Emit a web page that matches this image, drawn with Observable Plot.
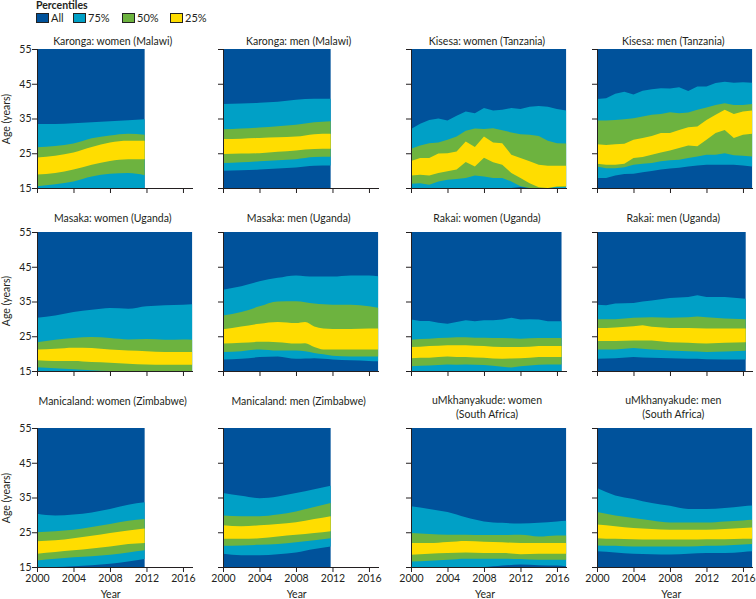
<!DOCTYPE html>
<html>
<head>
<meta charset="utf-8">
<script src="https://cdn.jsdelivr.net/npm/d3@7"></script>
<script src="https://cdn.jsdelivr.net/npm/@observablehq/plot@0.6"></script>
<style>
  body { margin: 0; background: #fff; }
  #chart { position: relative; width: 756px; height: 599px; font-family: Lato, "Open Sans", sans-serif; color: #231f20; }
  .t { position: absolute; font-size: 10.5px; white-space: pre; text-align: center; line-height: 14px; }
  .sw { position: absolute; width: 11px; height: 8px; border: 1px solid #222; }
</style>
</head>
<body>
<div id="chart"></div>
<script>
// ---------- data ----------
// columns of each row: year, p12.5 (75% low), p25 (50% low), p37.5 (25% low), p62.5 (25% high), p75 (50% high), p87.5 (75% high)
const percentileKeys = ["All", "75%", "50%", "25%"];
const ageMin = 15, ageMax = 55;
const yTicks = [15, 25, 35, 45, 55];
const xTicks = [2000, 2004, 2008, 2012, 2016];

const karongaWomen = [
  [2000, 15, 15.5, 18.9, 23.8, 26.7, 33.4],
  [2002, 15, 16.1, 19.3, 24.3, 27.1, 33.4],
  [2004, 15, 16.9, 20.3, 25.2, 27.8, 33.6],
  [2006, 15, 18.3, 21.7, 26.8, 29.3, 33.9],
  [2008, 15, 19.1, 22.8, 28.1, 30.1, 34.2],
  [2010, 15, 19.3, 23.3, 28.6, 30.6, 34.5],
  [2011.8, 15, 18.7, 23.3, 28.6, 30.3, 34.8]
];
const karongaMen = [
  [2000, 20.0, 22.2, 24.8, 29.1, 31.9, 39.2],
  [2002, 20.1, 22.4, 24.9, 29.2, 32.1, 39.3],
  [2004, 20.3, 22.7, 25.0, 29.4, 32.4, 39.5],
  [2006, 20.6, 23.0, 25.4, 29.6, 32.8, 39.8],
  [2008, 20.9, 23.3, 25.8, 29.8, 33.2, 40.4],
  [2010, 21.4, 23.9, 26.2, 30.5, 33.9, 40.7],
  [2011.8, 21.5, 24.0, 26.3, 30.6, 34.2, 40.7]
];
const kisesaWomen = [
  [2000, 15, 16.2, 18.6, 22.8, 26.3, 32.0],
  [2001, 15, 16.4, 18.8, 23.6, 27.2, 33.5],
  [2002, 15, 15.9, 18.6, 23.6, 27.9, 34.6],
  [2003, 15, 16.9, 19.3, 24.9, 28.1, 35.0],
  [2004, 15, 17.4, 19.8, 25.0, 28.9, 34.4],
  [2005, 15, 17.6, 20.3, 25.5, 29.8, 35.8],
  [2006, 15, 17.9, 22.5, 28.4, 31.5, 37.0],
  [2007, 15, 18.6, 21.2, 26.8, 32.1, 36.5],
  [2008, 15, 18.3, 23.7, 29.8, 32.0, 38.0],
  [2009, 15, 17.9, 22.4, 28.1, 32.2, 37.3],
  [2010, 15, 17.9, 21.7, 27.9, 31.6, 37.5],
  [2011, 15, 16.9, 19.3, 24.6, 31.0, 38.0],
  [2012, 15.3, 15.5, 17.9, 23.6, 30.5, 37.7],
  [2013, 15, 15, 16.4, 22.7, 30.3, 38.4],
  [2014, 15, 15, 15.2, 21.7, 30.0, 38.6],
  [2015, 15, 15, 15, 21.4, 28.6, 38.4],
  [2016, 15, 15.3, 15.4, 21.4, 27.9, 37.7],
  [2017, 15, 15.3, 15.5, 21.4, 27.8, 37.3]
];
const kisesaMen = [
  [2000, 17.9, 21.2, 22.0, 27.6, 34.4, 40.6],
  [2001, 17.9, 20.7, 21.7, 27.4, 34.4, 40.8],
  [2002, 18.6, 20.7, 21.7, 27.6, 34.6, 42.1],
  [2003, 19.0, 21.0, 22.0, 27.7, 34.8, 42.7],
  [2004, 19.1, 21.7, 23.6, 28.9, 35.1, 41.9],
  [2005, 19.5, 22.0, 23.9, 29.4, 35.6, 43.0],
  [2006, 19.9, 22.2, 24.6, 30.0, 36.1, 43.4],
  [2007, 20.3, 22.7, 25.2, 30.8, 36.3, 43.7],
  [2008, 20.6, 23.0, 25.8, 30.8, 36.8, 43.6],
  [2009, 20.8, 23.1, 26.5, 31.7, 36.5, 44.0],
  [2010, 21.2, 23.6, 27.2, 32.5, 36.7, 42.9],
  [2011, 21.5, 24.1, 27.0, 32.7, 37.5, 44.2],
  [2012, 21.7, 24.6, 28.9, 34.6, 38.2, 44.2],
  [2013, 21.7, 24.6, 30.8, 36.1, 38.9, 45.2],
  [2014, 21.7, 25.0, 31.7, 37.5, 39.4, 45.6],
  [2015, 21.7, 24.4, 29.4, 36.3, 38.9, 45.3],
  [2016, 21.5, 24.3, 30.3, 37.0, 38.9, 45.4],
  [2017, 21.2, 24.1, 30.6, 37.3, 39.2, 45.3]
];
const masakaWomen = [
  [2000, 15, 16.1, 18.1, 21.2, 23.3, 30.3],
  [2002, 15, 15.8, 17.9, 21.4, 24.0, 31.0],
  [2004, 15, 15.5, 17.9, 21.7, 24.5, 32.0],
  [2006, 15, 15.2, 17.6, 21.6, 24.8, 32.6],
  [2008, 15, 15, 17.4, 21.2, 24.5, 33.1],
  [2010, 15, 15, 17.1, 20.9, 24.1, 32.9],
  [2012, 15, 15, 16.9, 20.7, 24.2, 33.6],
  [2014, 15, 15, 16.8, 20.5, 24.0, 33.9],
  [2016, 15, 15, 16.8, 20.5, 24.1, 34.1],
  [2017, 15, 15, 16.8, 20.5, 24.0, 34.2]
];
const masakaMen = [
  [2000, 18.3, 20.5, 22.9, 27.0, 31.0, 38.4],
  [2002, 18.5, 20.7, 23.1, 27.8, 32.0, 39.4],
  [2004, 19.0, 21.2, 23.4, 28.6, 33.6, 40.8],
  [2006, 19.2, 20.9, 23.3, 29.1, 35.0, 41.8],
  [2008, 18.5, 20.9, 22.9, 28.8, 35.1, 42.5],
  [2009, 18.6, 20.7, 23.0, 29.1, 34.8, 42.3],
  [2010, 18.7, 20.2, 21.9, 27.8, 34.4, 42.2],
  [2011, 18.5, 19.8, 21.2, 27.2, 34.2, 42.2],
  [2012, 18.3, 19.4, 21.2, 27.1, 34.1, 42.2],
  [2014, 18.1, 19.2, 21.2, 27.1, 34.1, 42.5],
  [2016, 17.9, 19.2, 21.2, 27.2, 33.6, 42.5],
  [2017, 17.8, 19.2, 21.2, 27.2, 33.2, 42.3]
];
const rakaiWomen = [
  [2000, 15, 16.4, 18.7, 21.9, 24.0, 29.8],
  [2001, 15, 16.5, 18.8, 22.0, 24.2, 29.4],
  [2002, 15, 16.6, 18.8, 22.2, 24.3, 29.4],
  [2003, 15, 16.7, 19.0, 22.3, 24.5, 28.9],
  [2004, 15, 16.9, 19.2, 22.4, 24.6, 28.6],
  [2005, 15, 16.8, 19.0, 22.4, 24.7, 29.1],
  [2006, 15, 16.9, 19.0, 22.4, 24.7, 29.6],
  [2007, 15, 16.8, 18.9, 22.3, 24.6, 29.3],
  [2008, 15, 16.7, 18.8, 22.2, 24.6, 29.6],
  [2009, 15, 16.5, 18.6, 22.0, 24.5, 29.6],
  [2010, 15, 16.2, 18.5, 21.9, 24.5, 29.8],
  [2011, 15, 16.0, 18.6, 21.9, 24.4, 30.3],
  [2012, 15, 16.4, 18.7, 21.9, 24.3, 29.8],
  [2013, 15, 16.6, 18.8, 22.0, 24.4, 29.9],
  [2014, 15, 16.8, 19.0, 22.2, 24.5, 29.8],
  [2015, 15, 16.9, 19.0, 22.2, 24.5, 29.3],
  [2016, 15, 16.9, 19.0, 22.2, 24.5, 29.3],
  [2016.5, 15, 16.9, 19.0, 22.2, 24.5, 29.3]
];
const rakaiMen = [
  [2000, 18.5, 21.2, 23.6, 27.4, 29.9, 34.1],
  [2001, 18.6, 21.2, 23.6, 27.4, 29.9, 33.9],
  [2002, 18.7, 21.2, 23.6, 27.5, 29.9, 34.4],
  [2004, 19.0, 21.6, 23.8, 27.9, 30.3, 34.6],
  [2005, 18.9, 21.4, 23.8, 28.2, 30.4, 35.0],
  [2006, 18.8, 21.2, 23.8, 27.7, 30.5, 35.3],
  [2008, 18.7, 20.9, 23.3, 27.4, 30.3, 36.0],
  [2010, 18.5, 20.7, 23.1, 27.4, 30.5, 36.3],
  [2011, 18.5, 20.6, 23.0, 27.3, 30.7, 36.8],
  [2012, 18.4, 20.5, 22.9, 27.2, 30.5, 36.3],
  [2014, 18.3, 20.6, 23.1, 27.2, 30.1, 36.3],
  [2016.3, 18.3, 20.8, 23.3, 27.2, 29.9, 35.8]
];
const manicalandWomen = [
  [2000, 15, 16.9, 18.8, 22.4, 25.0, 30.3],
  [2002, 15, 17.4, 19.3, 22.7, 25.3, 29.8],
  [2004, 15.2, 17.8, 19.8, 23.3, 25.7, 30.1],
  [2006, 15.5, 18.1, 20.3, 24.0, 26.5, 30.7],
  [2008, 15.9, 18.5, 20.9, 24.8, 27.4, 31.7],
  [2010, 16.6, 19.2, 21.6, 25.5, 28.3, 32.9],
  [2011.8, 17.3, 19.8, 21.9, 26.1, 28.8, 33.6]
];
const manicalandMen = [
  [2000, 18.8, 21.1, 23.1, 27.0, 29.8, 36.3],
  [2002, 18.4, 21.2, 23.1, 26.7, 29.6, 35.5],
  [2004, 18.4, 21.4, 23.3, 27.0, 29.6, 34.8],
  [2006, 18.7, 21.6, 23.8, 27.4, 30.1, 35.3],
  [2008, 19.2, 22.1, 24.3, 27.9, 31.0, 36.3],
  [2010, 20.2, 22.7, 24.8, 28.8, 32.3, 37.4],
  [2011.8, 20.9, 23.3, 25.3, 29.6, 33.4, 38.4]
];
const umkhanyakudeWomen = [
  [2000, 15, 16.6, 18.5, 21.9, 24.8, 32.5],
  [2002, 15, 16.8, 18.8, 21.9, 24.5, 31.7],
  [2004, 15, 17.1, 19.0, 22.2, 24.3, 30.8],
  [2006, 15, 17.4, 19.2, 22.5, 24.3, 29.3],
  [2008, 15, 17.4, 19.0, 22.3, 24.2, 28.1],
  [2010, 15.4, 17.4, 19.0, 22.1, 24.2, 27.7],
  [2012, 15.7, 17.3, 18.7, 21.9, 24.3, 27.5],
  [2014, 15.5, 17.1, 18.8, 21.9, 23.8, 27.7],
  [2016, 15.4, 17.1, 18.8, 21.9, 24.1, 28.1],
  [2017, 15.2, 17.1, 18.8, 21.9, 24.1, 28.3]
];
const umkhanyakudeMen = [
  [2000, 19.5, 21.2, 23.3, 27.2, 30.8, 37.7],
  [2002, 19.2, 21.1, 23.1, 26.7, 29.8, 35.6],
  [2004, 18.8, 20.9, 23.0, 26.2, 29.1, 34.6],
  [2006, 18.7, 20.9, 22.9, 25.9, 28.4, 33.4],
  [2008, 18.6, 20.9, 22.9, 25.7, 27.8, 32.6],
  [2010, 18.8, 20.9, 22.9, 25.7, 27.8, 31.7],
  [2012, 19.0, 21.1, 23.0, 25.7, 27.8, 31.7],
  [2014, 19.0, 21.2, 23.0, 25.9, 28.1, 32.0],
  [2016, 19.3, 21.5, 23.1, 26.2, 28.4, 32.5],
  [2017, 19.5, 21.6, 23.1, 26.4, 28.6, 32.7]
];

const panelTitles = [
  "Karonga: women (Malawi)", "Karonga: men (Malawi)", "Kisesa: women (Tanzania)", "Kisesa: men (Tanzania)",
  "Masaka: women (Uganda)", "Masaka: men (Uganda)", "Rakai: women (Uganda)", "Rakai: men (Uganda)",
  "Manicaland: women (Zimbabwe)", "Manicaland: men (Zimbabwe)", "uMkhanyakude: women\n(South Africa)", "uMkhanyakude: men\n(South Africa)"
];
const panelData = [karongaWomen, karongaMen, kisesaWomen, kisesaMen,
  masakaWomen, masakaMen, rakaiWomen, rakaiMen,
  manicalandWomen, manicalandMen, umkhanyakudeWomen, umkhanyakudeMen];
const jagged = [false, false, true, true, false, false, true, true, false, false, false, false];

// ---------- drawing ----------
const colors = ["#00529b", "#00a0c6", "#6db33f", "#ffdd00"];
const chart = document.getElementById("chart");
const W = 156, H = 139;
const colX = [36.7, 222.7, 411, 597.3];
const rowY = [49, 231.7, 428.3];
const ml = 34, mr = 4, mt = 4, mb = 22;

function addText(txt, x, y, extra) {
  const d = document.createElement("div");
  d.className = "t";
  d.textContent = txt;
  d.style.left = x + "px";
  d.style.top = y + "px";
  if (extra) Object.assign(d.style, extra);
  chart.appendChild(d);
  return d;
}

// legend
addText("Percentiles", 36, 0, {fontWeight: "bold", textAlign: "left", lineHeight: "11px"});
const legX = [36, 73, 122, 170];
percentileKeys.forEach((k, i) => {
  const s = document.createElement("div");
  s.className = "sw";
  s.style.left = legX[i] + "px";
  s.style.top = "13px";
  s.style.background = colors[i];
  chart.appendChild(s);
  addText(k, legX[i] + 15, 11, {textAlign: "left", fontSize: "11px"});
});

panelData.forEach((rows, idx) => {
  const r = Math.floor(idx / 4), c = idx % 4;
  const curve = jagged[idx] ? "linear" : "monotone-x";
  const X = d => d[0];
  const svg = Plot.plot({
    width: ml + W + mr, height: mt + H + mb,
    marginLeft: ml, marginRight: mr, marginTop: mt, marginBottom: mb,
    style: {fontFamily: "Lato, 'Open Sans', sans-serif", fontSize: "10.5px", color: "#231f20", background: "transparent"},
    x: {domain: [2000, 2017.1]},
    y: {domain: [ageMin, ageMax]},
    marks: [
      Plot.areaY(rows, {x: X, y1: ageMin, y2: ageMax, fill: colors[0], curve}),
      Plot.areaY(rows, {x: X, y1: d => d[1], y2: d => d[6], fill: colors[1], curve}),
      Plot.areaY(rows, {x: X, y1: d => d[2], y2: d => d[5], fill: colors[2], curve}),
      Plot.areaY(rows, {x: X, y1: d => d[3], y2: d => d[4], fill: colors[3], curve}),
      Plot.axisY({ticks: yTicks, tickSize: 5, tickPadding: 1, label: null,
        tickFormat: c === 0 ? d => String(d) : () => ""}),
      Plot.axisX({ticks: xTicks, tickSize: 5, tickPadding: 2, label: null,
        tickFormat: r === 2 ? d => String(d) : () => ""}),
      Plot.ruleX([2000], {y1: ageMin, y2: ageMax, stroke: "#231f20"}),
      Plot.ruleY([ageMin], {x1: 2000, x2: 2017.1, stroke: "#231f20"})
    ]
  });
  svg.style.position = "absolute";
  svg.style.left = (colX[c] - ml) + "px";
  svg.style.top = (rowY[r] - mt) + "px";
  svg.style.overflow = "visible";
  chart.appendChild(svg);

  // panel title
  const title = panelTitles[idx];
  const lines = title.split("\n").length;
  const cy = r === 0 ? 41 : r === 1 ? 218 : (lines === 2 ? 407 : 400.7);
  addText(title, colX[c] + 76 - 100, cy - 7 * lines, {width: "200px"});

  if (c === 0) {
    addText("Age (years)", 6 - 40, rowY[r] + H / 2 - 7, {width: "80px", transform: "rotate(-90deg)"});
  }
  if (r === 2) {
    addText("Year", colX[c] + 74 - 30, 588.5, {width: "60px", lineHeight: "10px"});
  }
});
</script>
</body>
</html>
